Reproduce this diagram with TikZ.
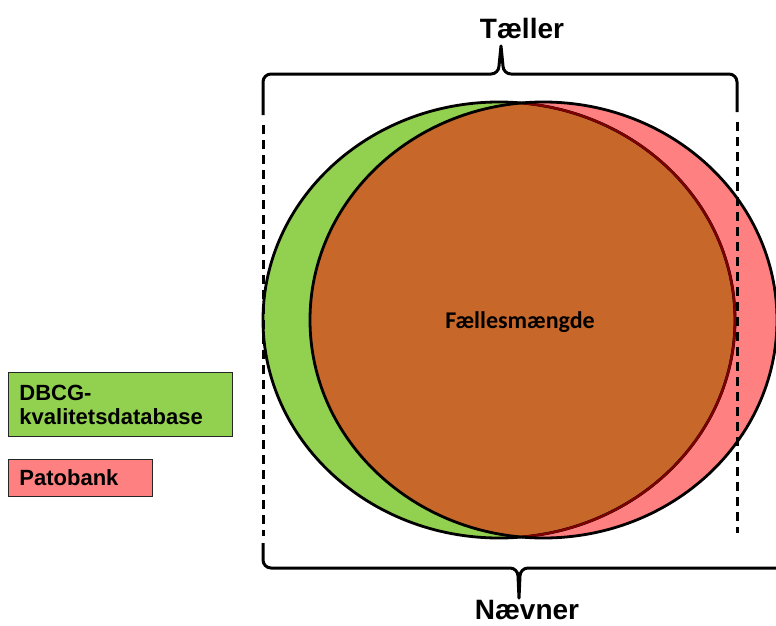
\documentclass[tikz,border=0pt]{standalone}
\usepackage{fontspec}
\setmainfont{Liberation Sans}
\newfontfamily\calibrifont{Carlito}

\begin{document}
\begin{tikzpicture}[x=1pt, y=-1pt,
    % lines of the sets and the braces
    outline/.style={line width=2.8pt},
    brace/.style={line width=3pt, line join=round},
    guide/.style={line width=3pt, dash pattern=on 9pt off 6pt},
    title/.style={anchor=base, inner sep=0pt, font=\fontsize{28}{34}\selectfont\bfseries},
    legend/.style={draw=black!85, line width=0.9pt, anchor=north west, inner xsep=11pt,
        inner ysep=0pt, align=left, font=\fontsize{22}{24}\selectfont\bfseries},
]
    % Colors
    \definecolor{dbcggreen}{RGB}{146,208,80}
    \definecolor{patored}{RGB}{255,128,128}
    \definecolor{overlap}{RGB}{200,103,42}
    \definecolor{darkrim}{RGB}{128,0,0}

    \useasboundingbox (0,0) rectangle (776,626);

    % Sets
    \coordinate (G) at (499,320);
    \coordinate (P) at (543.5,320);
    \fill[dbcggreen] (G) ellipse [x radius=236, y radius=218];
    \fill[patored]   (P) ellipse [x radius=233.5, y radius=218];
    \begin{scope}
        \clip (G) ellipse [x radius=236, y radius=218];
        \fill[overlap] (P) ellipse [x radius=233.5, y radius=218];
    \end{scope}
    \draw[outline] (G) ellipse [x radius=236, y radius=218];
    \draw[outline] (P) ellipse [x radius=233.5, y radius=218];
    \begin{scope}
        \clip (P) ellipse [x radius=232, y radius=216.5];
        \draw[outline, darkrim, line width=2.4pt] (G) ellipse [x radius=236, y radius=218];
    \end{scope}

    \node[anchor=base, inner sep=0pt, font=\fontsize{24}{28}\selectfont\calibrifont\bfseries]
        (common) at (520,328) {Fællesmængde};

    % Tæller (y grows downwards here)
    \draw[brace] (263,115) -- (263,82) arc[start angle=180, end angle=270, radius=8]
        -- (491,74) arc[start angle=90, end angle=0, radius=8] -- (501,46)
        -- (503,66) arc[start angle=180, end angle=90, radius=8]
        -- (729,74) arc[start angle=270, end angle=360, radius=8] -- (737,112);
    \node[title] (teller) at (522,38) {Tæller};

    % Nævner
    \draw[brace] (263,543) -- (263,560) arc[start angle=180, end angle=90, radius=8]
        -- (510,568) arc[start angle=270, end angle=360, radius=8] -- (519,598)
        -- (520,576) arc[start angle=180, end angle=270, radius=8] -- (800,568);
    \node[title] (naevner) at (527,619) {Nævner};

    % Dashed guides
    \coordinate (lt) at (263,125);
    \coordinate (lb) at (263,536);
    \coordinate (rt) at (737,122);
    \coordinate (rb) at (737,533);
    \draw[guide] (lt) -- (lb);
    \draw[guide] (rt) -- (rb);

    % Legend
    \node[legend, fill=dbcggreen, minimum width=224pt, minimum height=64pt, text width=202pt]
        (dbcg) at (8,372) {DBCG-\\kvalitetsdatabase};
    \node[legend, fill=patored, minimum width=144pt, minimum height=37pt, text width=122pt]
        (pato) at (8,459) {Patobank};
\end{tikzpicture}
\end{document}
